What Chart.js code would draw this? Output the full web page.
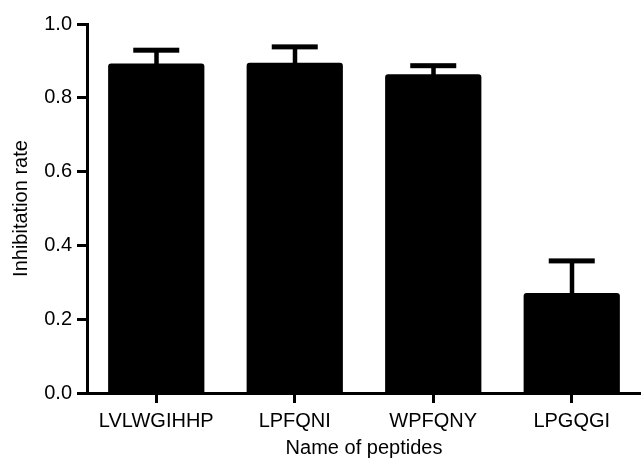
<!DOCTYPE html>
<html lang="en">

<head>
  <meta charset="UTF-8">
  <title>Inhibitation rate</title>
  <script src="https://cdn.jsdelivr.net/npm/chart.js"></script>
  <style>
    body {
      margin: 0;
      background: #fff;
    }
  </style>
</head>

<body>
  <canvas id="myBarChart" width="641" height="460"></canvas>

  <script>
    const peptides = ['LVLWGIHHP', 'LPFQNI', 'WPFQNY', 'LPGQGI'];
    const rates = [0.893, 0.895, 0.864, 0.271];
    const errors = [0.036, 0.043, 0.023, 0.087];
    const yTicks = [0, 0.2, 0.4, 0.6, 0.8, 1.0];

    // upper error bars (T shape), drawn on top of the bars
    const errorBars = {
      id: 'errorBars',
      afterDatasetsDraw(chart) {
        const ctx = chart.ctx;
        const y = chart.scales.y;
        const meta = chart.getDatasetMeta(0);
        ctx.save();
        ctx.fillStyle = '#000';
        meta.data.forEach((bar, i) => {
          const top = y.getPixelForValue(rates[i] + errors[i]);
          const base = y.getPixelForValue(rates[i]);
          ctx.fillRect(bar.x - 2, top, 4.5, base - top + 2);
          ctx.fillRect(bar.x - 23, top - 2.5, 46, 5);
        });
        ctx.restore();
      }
    };

    const font = { family: "'Liberation Sans', Arial, sans-serif", size: 20 };

    const ctx = document.getElementById('myBarChart').getContext('2d');
    new Chart(ctx, {
      type: 'bar',
      data: {
        labels: peptides,
        datasets: [{
          data: rates,
          backgroundColor: '#000',
          borderRadius: 3,
          borderSkipped: 'bottom',
          categoryPercentage: 1,
          barPercentage: 0.695,
        }],
      },
      options: {
        responsive: false,
        animation: false,
        layout: { padding: { top: 24, right: 0, left: 0, bottom: 0 } },
        plugins: {
          legend: { display: false },
          tooltip: { enabled: false },
        },
        scales: {
          x: {
            afterFit: s => { s.height = 67; },
            grid: { offset: false, drawOnChartArea: false, tickLength: 10, tickWidth: 3, tickColor: '#000' },
            border: { color: '#000', width: 3 },
            ticks: { color: '#000', font, padding: 6, maxRotation: 0 },
            title: {
              display: true,
              text: 'Name of peptides',
              color: '#000',
              font: { ...font, lineHeight: 1 },
              padding: { top: 0, bottom: 2 },
            },
          },
          y: {
            min: 0,
            max: 1,
            afterFit: s => { s.width = 87; },
            afterBuildTicks: s => { s.ticks = yTicks.map(v => ({ value: v })); },
            grid: { drawOnChartArea: false, tickLength: 10, tickWidth: 3, tickColor: '#000' },
            border: { color: '#000', width: 3 },
            ticks: { color: '#000', font, padding: 5, callback: v => v.toFixed(1) },
            title: {
              display: true,
              text: 'Inhibitation rate',
              color: '#000',
              font: { ...font, lineHeight: 1 },
              padding: { top: 11, bottom: 0 },
            },
          },
        },
      },
      plugins: [errorBars],
    });
  </script>
</body>

</html>
